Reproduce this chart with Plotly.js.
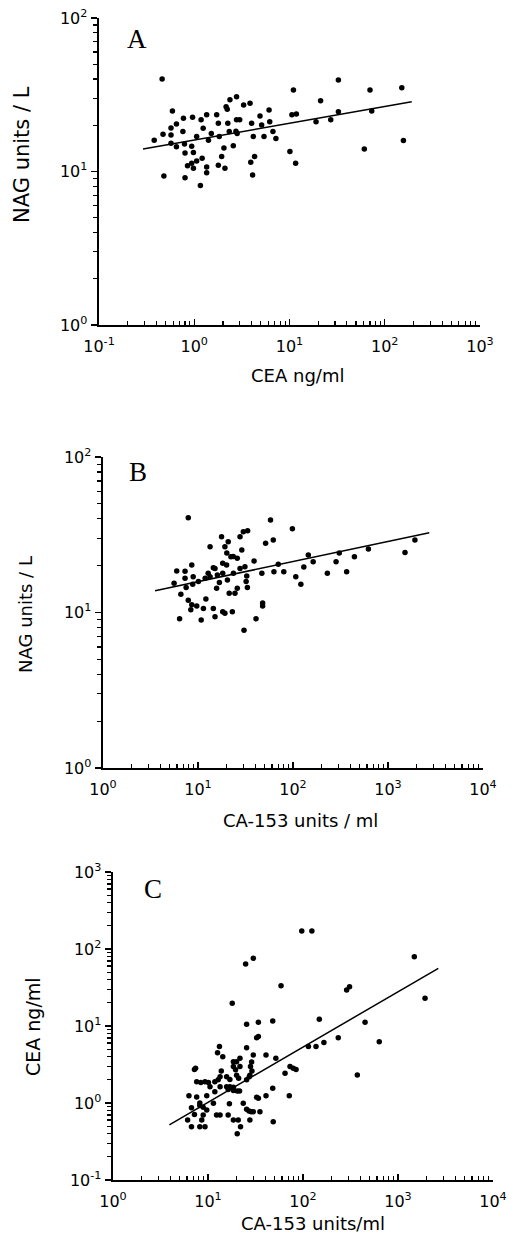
<!DOCTYPE html>
<html>
<head>
<meta charset="utf-8">
<script src="https://cdn.plot.ly/plotly-3.0.1.min.js"></script>
<style>html,body{margin:0;padding:0;background:#fff;}#chart{width:516px;height:1243px;}</style>
</head>
<body>
<div id="chart"></div>
<script>
// ---- Panel A: CEA (ng/ml) vs NAG (units/L) ----
const A_cea = [0.46,0.38,0.47,0.48,0.59,0.57,0.57,0.57,0.65,0.65,0.77,0.76,0.79,0.80,0.80,0.85,0.96,0.98,0.94,0.98,
  1.06,1.16,1.18,1.24,1.21,1.35,1.35,1.35,1.41,1.51,1.72,1.79,1.83,1.79,1.94,2.05,2.16,2.10,2.25,2.37,
  2.57,2.78,2.78,2.74,2.82,3.3,3.0,3.85,4.0,4.17,4.10,3.92,4.3,5.1,5.4,6.1,6.2,6.7,7.2,11.0,
  10.6,11.8,10.1,11.6,19.0,21.2,27.1,32.6,32.6,61,70,73,151,157,2.22,4.9,2.33,0.94,1.06];
const A_nag = [40.1,16.0,17.5,9.35,24.8,19.2,17.3,15.3,20.4,14.5,22.2,18.2,15.1,13.2,9.1,10.9,22.6,13.3,11.3,10.5,
  16.9,8.1,21.7,19.1,12.2,23.4,10.7,9.8,16.0,17.7,23.4,20.6,16.9,11.0,12.5,14.2,26.4,10.5,20.6,29.3,
  14.7,30.7,21.7,18.3,17.7,27.1,21.7,27.8,20.6,16.9,9.5,11.5,12.5,20.1,16.9,25.2,21.1,18.2,16.4,34.0,
  23.4,23.7,13.5,11.3,21.1,28.9,21.7,39.5,24.5,14.0,34.0,24.8,35.1,15.9,25.4,23.0,18.2,14.6,11.7];
const A_fitX = [0.29, 192];
const A_fitY = [14.0, 28.5];

// ---- Panel B: CA-153 (units/ml) vs NAG (units/L) ----
const B_ca153 = [7.9,5.97,5.6,6.6,6.4,7.3,7.3,7.5,8.6,8.9,8.8,7.9,8.6,8.4,9.7,10.8,11.4,12.1,13.4,13.4,
  14.5,14.5,15.1,15.7,16.0,16.8,17.7,18.2,18.2,18.2,19.2,20.1,20.8,20.4,21.3,22.2,23.6,23.0,24.5,25.9,
  25.9,27.7,28.9,30.0,30.5,31.2,32.1,33.3,33.1,38.9,40.8,47.9,47.9,47,51.5,58,62,63,70,80,
  98.5,107,121,130,145,163,230,284,307,367,443,622,1510,1920,
  20.0,27.7,15.1,12.8,11.9,10.1,19.2,32.6,23.5];
const B_nag = [40.7,18.5,15.4,13.1,9.1,18.4,16.6,14.5,20.2,17.0,15.2,12.0,11.2,10.4,11.0,8.96,10.6,12.2,26.5,17.0,
  19.4,10.6,9.4,14.3,17.4,15.6,30.7,20.7,17.9,10.1,26.5,24.1,28.5,16.2,13.3,22.8,17.9,10.1,13.3,22.3,
  14.3,30.7,25.2,33.1,7.7,19.7,15.8,33.5,14.5,21.4,9.1,11.5,11.0,17.9,27.9,39.4,29.3,18.3,20.4,18.3,
  34.5,17.0,15.2,19.6,23.4,21.2,17.9,21.2,24.1,18.3,22.8,25.6,24.3,29.3,
  20.2,19.2,19.2,17.9,16.6,15.8,9.9,17.2,22.9];
const B_fitX = [3.53, 2720];
const B_fitY = [13.8, 32.6];

// ---- Panel C: CA-153 (units/ml) vs CEA (ng/ml) ----
const C_ca153 = [97,124,24.9,30,1485,58.7,288,309,1925,18.0,48,25.5,33.9,148.5,450,32.5,33.9,235,114,137,
  166,635,373,13.2,25.5,12.6,14.3,30,40.8,51.8,21.7,18.5,7.4,64.7,73,79,84.5,13.4,7.6,8.4,
  9.3,10.1,6.3,9.7,11.8,13.4,15.7,17,18.5,20,21,21.7,20.3,21.5,25.5,27.2,28,29,48,71.7,
  32.5,33.9,40.8,35.2,25.5,27,28.5,30,23.5,16.8,16.3,18.5,20.8,20.3,22,27.6,48.6,12.3,13.4,11.4,
  9.7,8.2,8.9,7.6,8.2,6.7,6.1,6.7,8.2,9.3,8.6,8.9,7.2,16.3,18.5,15.7,17,18.5,19.5,7.2,
  10.5,11.8,13.8,12.8,28.8,27.6,20];
const C_cea = [171,171,63.8,75.7,79.4,33.4,29.4,32.4,22.9,19.7,11.6,10.5,11.2,12.2,11.2,7.05,7.3,7.05,5.4,5.4,
  6.1,6.25,2.31,5.4,5.2,4.5,4.0,4.2,4.2,3.8,3.8,3.44,2.82,2.43,2.97,2.82,2.73,2.19,1.89,1.85,
  1.89,1.85,1.24,1.24,1.89,1.63,1.63,1.63,1.6,2.3,2.1,2.97,1.43,1.43,2.0,2.2,2.97,2.6,1.55,1.24,
  1.19,1.15,1.24,0.77,0.83,0.79,0.77,0.77,0.99,0.98,0.70,0.60,0.60,0.40,0.49,0.60,0.57,0.70,0.70,0.99,
  0.81,0.93,0.88,1.2,1.0,0.87,0.60,0.49,0.49,0.49,0.60,0.70,0.71,1.5,1.45,2.19,2.02,2.97,2.7,2.73,
  1.63,1.40,2.6,2.0,3.4,2.3,3.44];
const C_fitX = [3.92, 2657];
const C_fitY = [0.52, 56.1];

const A_xTitle = 'CEA ng/ml', A_yTitle = 'NAG units / L';
const B_xTitle = 'CA-153 units / ml', B_yTitle = 'NAG units / L';
const C_xTitle = 'CA-153 units/ml', C_yTitle = 'CEA ng/ml';
const panelLetters = ['A','B','C'];

// ---- layout helpers (page pixels -> paper fractions) ----
const W = 516, H = 1243;
const px = v => v / W;
const py = v => 1 - v / H;

function decadeTicks(lo, hi) {
  const vals = [], text = [], minor = [];
  for (let d = lo; d <= hi; d++) {
    vals.push(Math.pow(10, d));
    text.push('10<sup>' + d + '</sup>');
    if (d < hi) for (let m = 2; m <= 9; m++) minor.push(m * Math.pow(10, d));
  }
  return {vals, text, minor};
}

const tickFont = {family: 'DejaVu Sans, sans-serif', size: 16, color: '#000'};
function axis(lo, hi, dom, anchor, isX) {
  const t = decadeTicks(lo, hi);
  const dir = isX ? 'inside' : 'outside';
  const a = {type: 'log', range: [lo, hi], domain: dom, anchor: anchor,
    tickmode: 'array', tickvals: t.vals, ticktext: t.text,
    ticks: dir, ticklen: 6, tickwidth: 1.4, tickcolor: '#000',
    minor: {tickmode: 'array', tickvals: t.minor, ticks: dir, ticklen: 4, tickwidth: 1.2, tickcolor: '#000', showgrid: false},
    showline: true, linecolor: '#000', linewidth: 2.4, showgrid: false, zeroline: false,
    tickfont: tickFont, fixedrange: true};
  if (isX) a.ticklabelstandoff = 5;
  return a;
}

const mk = {color: '#000', size: 5.5, symbol: 'circle'};
const ln = {color: '#000', width: 1.5};
const traces = [
  {x: A_cea, y: A_nag, xaxis: 'x', yaxis: 'y', mode: 'markers', type: 'scatter', marker: mk},
  {x: A_fitX, y: A_fitY, xaxis: 'x', yaxis: 'y', mode: 'lines', type: 'scatter', line: ln},
  {x: B_ca153, y: B_nag, xaxis: 'x2', yaxis: 'y2', mode: 'markers', type: 'scatter', marker: mk},
  {x: B_fitX, y: B_fitY, xaxis: 'x2', yaxis: 'y2', mode: 'lines', type: 'scatter', line: ln},
  {x: C_ca153, y: C_cea, xaxis: 'x3', yaxis: 'y3', mode: 'markers', type: 'scatter', marker: mk},
  {x: C_fitX, y: C_fitY, xaxis: 'x3', yaxis: 'y3', mode: 'lines', type: 'scatter', line: ln}
];

const titleFont = s => ({family: 'DejaVu Sans, sans-serif', size: s, color: '#000'});
const letterFont = {family: 'Liberation Serif, Times New Roman, serif', size: 27, color: '#000'};
function ann(text, x, y, font, angle) {
  return {text: text, x: px(x), y: py(y), xref: 'paper', yref: 'paper',
    xanchor: 'center', yanchor: 'middle', showarrow: false, font: font, textangle: angle || 0};
}

const layout = {
  width: W, height: H, margin: {l: 0, r: 0, t: 0, b: 0},
  paper_bgcolor: '#fff', plot_bgcolor: '#fff', showlegend: false,
  xaxis: axis(-1, 3, [px(99), px(480)], 'y', true),
  yaxis: axis(0, 2, [py(325), py(18)], 'x', false),
  xaxis2: axis(0, 4, [px(103), px(483)], 'y2', true),
  yaxis2: axis(0, 2, [py(768), py(457)], 'x2', false),
  xaxis3: axis(0, 4, [px(113), px(493)], 'y3', true),
  yaxis3: axis(-1, 3, [py(1180), py(872)], 'x3', false),
  annotations: [
    ann(panelLetters[0], 137, 39, letterFont),
    ann(panelLetters[1], 138, 472, letterFont),
    ann(panelLetters[2], 153, 889, letterFont),
    ann(A_xTitle, 297, 375, titleFont(18)),
    ann(A_yTitle, 22, 155, titleFont(21), -90),
    ann(B_xTitle, 300, 820, titleFont(18)),
    ann(B_yTitle, 25, 615, titleFont(18), -90),
    ann(C_xTitle, 313, 1223, titleFont(18)),
    ann(C_yTitle, 33, 1027, titleFont(19), -90)
  ]
};

Plotly.newPlot('chart', traces, layout, {staticPlot: true, displayModeBar: false});
</script>
</body>
</html>
